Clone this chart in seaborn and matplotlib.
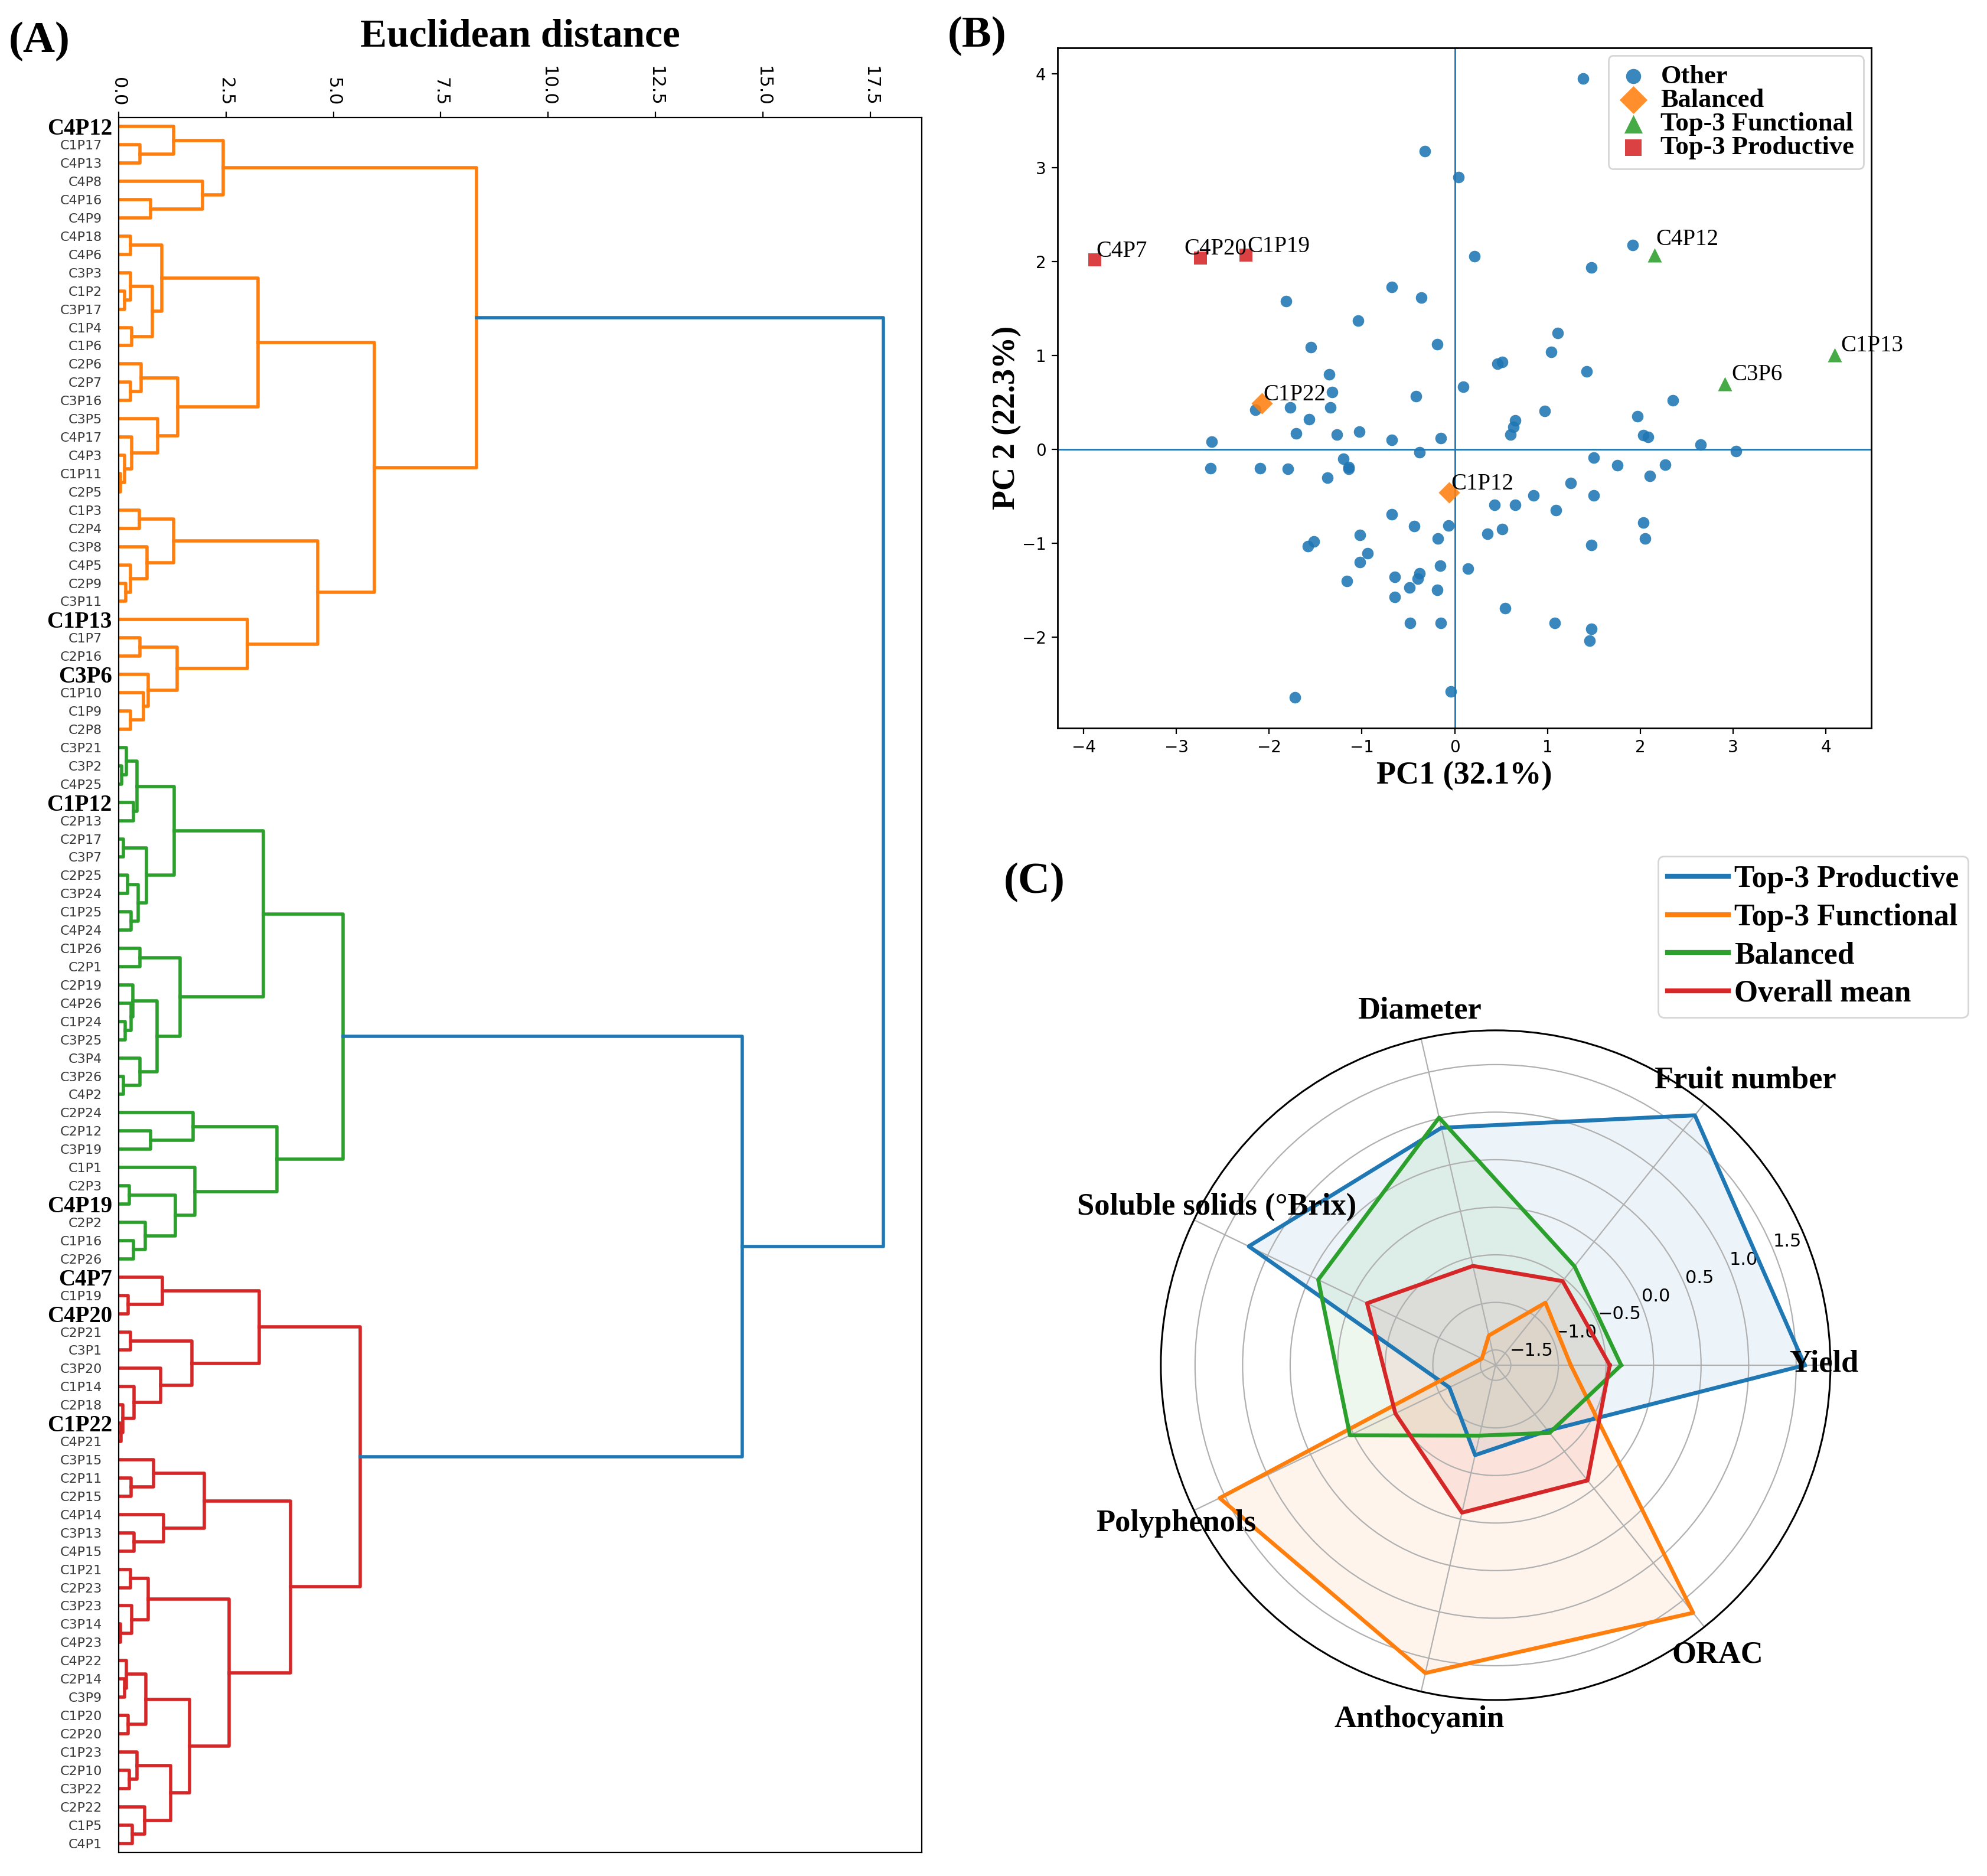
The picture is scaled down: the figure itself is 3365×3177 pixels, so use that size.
import matplotlib
matplotlib.use("Agg")
import matplotlib.pyplot as plt
from matplotlib.font_manager import FontProperties
import seaborn as sns
import numpy as np
import pandas as pd

plt.rcParams['font.family'] = ['DejaVu Sans']
SERIF = ['Liberation Serif', 'DejaVu Serif']
NARROW = ['Liberation Sans Narrow', 'DejaVu Sans']

BLUE, ORANGE, GREEN, RED = sns.color_palette("tab10")[:4]

# ---------------- (A) dendrogram, each merge = (upper, lower, distance) ----------------
orange_tree = (
    (("C4P12", ("C1P17", "C4P13", 0.50), 1.28),
     ("C4P8", ("C4P16", "C4P9", 0.74), 1.95), 2.43),
    (((("C4P18", "C4P6", 0.28),
       (("C3P3", ("C1P2", "C3P17", 0.14), 0.28), ("C1P4", "C1P6", 0.31), 0.79), 1.00),
      (("C2P6", ("C2P7", "C3P16", 0.28), 0.52),
       ("C3P5", ("C4P17", ("C4P3", ("C1P11", "C2P5", 0.04), 0.14), 0.30), 0.91), 1.37), 3.24),
     ((("C1P3", "C2P4", 0.48), ("C3P8", ("C4P5", ("C2P9", "C3P11", 0.17), 0.28), 0.66), 1.28),
      ("C1P13", (("C1P7", "C2P16", 0.50),
                 ("C3P6", ("C1P10", ("C1P9", "C2P8", 0.28), 0.58), 0.69), 1.36), 3.00), 4.63), 5.96),
    8.33)

green_tree = (
    (((("C3P21", ("C3P2", "C4P25", 0.07), 0.18), ("C1P12", "C2P13", 0.35), 0.43),
      (("C2P17", "C3P7", 0.11), (("C2P25", "C3P24", 0.21), ("C1P25", "C4P24", 0.29), 0.45), 0.65), 1.29),
     (("C1P26", "C2P1", 0.49),
      (("C2P19", ("C4P26", ("C1P24", "C3P25", 0.15), 0.29), 0.33),
       ("C3P4", ("C3P26", "C4P2", 0.11), 0.49), 0.90), 1.43), 3.37),
    (("C2P24", ("C2P12", "C3P19", 0.74), 1.73),
     ("C1P1", (("C2P3", "C4P19", 0.25), ("C2P2", ("C1P16", "C2P26", 0.35), 0.62), 1.32), 1.78), 3.69),
    5.22)

red_tree = (
    (("C4P7", ("C1P19", "C4P20", 0.22), 1.02),
     (("C2P21", "C3P1", 0.28),
      ("C3P20", ("C1P14", ("C2P18", ("C1P22", "C4P21", 0.05), 0.10), 0.36), 0.98), 1.71), 3.28),
    ((("C3P15", ("C2P11", "C2P15", 0.29), 0.81), ("C4P14", ("C3P13", "C4P15", 0.36), 1.05), 1.99),
     ((("C1P21", "C2P23", 0.28), ("C3P23", ("C3P14", "C4P23", 0.04), 0.31), 0.69),
      ((("C4P22", ("C2P14", "C3P9", 0.14), 0.18), ("C1P20", "C2P20", 0.22), 0.63),
       (("C1P23", ("C2P10", "C3P22", 0.25), 0.43), ("C2P22", ("C1P5", "C4P1", 0.32), 0.60), 1.21),
       1.65), 2.57), 4.00),
    5.62)

green_red_distance = 14.52
root_distance = 17.81
highlighted = ["C4P12", "C1P13", "C3P6", "C1P12", "C4P19", "C4P7", "C4P20", "C1P22"]

# ---------------- (B) PCA scores ----------------
other_pc1 = [1.38, -0.32, 0.04, 0.21, 1.92, 1.47, -0.68, -0.36, -1.82, -1.04, 1.11, -1.55, -0.19,
             1.04, 0.51, 0.46, 1.42, -1.35, 0.09, -1.32, -0.42, 2.35, -1.77, -1.34, -2.15, 0.97,
             -1.57, 0.65, 1.97, 0.63, 0.60, -1.71, -1.27, -1.03, -0.68, -0.15, -2.62, 2.03, 2.08,
             2.65, 3.03, -0.38, 1.50, -1.20, -1.14, -1.14, -2.63, -2.10, -1.80, 1.75, 2.27, -1.37,
             2.10, 1.25, 0.85, 1.50, 0.43, 0.65, 1.09, -0.68, 2.03, -0.07, -0.44, 0.51, 0.35, -1.02,
             2.05, -0.18, -1.52, -1.58, 1.47, -0.94, -1.02, -0.16, 0.14, -0.38, -0.65, -0.40, -1.16,
             -0.49, -0.19, -0.65, 0.54, -0.48, -0.15, 1.08, 1.47, 1.45, -0.04, -1.72]
other_pc2 = [3.95, 3.18, 2.90, 2.06, 2.18, 1.94, 1.73, 1.62, 1.58, 1.37, 1.24, 1.09, 1.12,
             1.04, 0.93, 0.91, 0.83, 0.80, 0.67, 0.61, 0.57, 0.52, 0.45, 0.45, 0.42, 0.41,
             0.32, 0.31, 0.35, 0.24, 0.16, 0.17, 0.16, 0.19, 0.10, 0.12, 0.08, 0.15, 0.13,
             0.05, -0.02, -0.03, -0.09, -0.10, -0.19, -0.21, -0.20, -0.20, -0.21, -0.17, -0.16, -0.30,
             -0.28, -0.36, -0.49, -0.49, -0.59, -0.59, -0.65, -0.69, -0.78, -0.81, -0.82, -0.85, -0.90, -0.91,
             -0.95, -0.95, -0.98, -1.03, -1.02, -1.11, -1.20, -1.24, -1.27, -1.32, -1.36, -1.38, -1.40,
             -1.47, -1.50, -1.57, -1.69, -1.85, -1.85, -1.85, -1.91, -2.04, -2.58, -2.64]

balanced_names = ["C1P22", "C1P12"]
balanced_pc1 = [-2.08, -0.06]
balanced_pc2 = [0.49, -0.46]

functional_names = ["C4P12", "C3P6", "C1P13"]
functional_pc1 = [2.15, 2.91, 4.09]
functional_pc2 = [2.07, 0.70, 1.01]

productive_names = ["C4P7", "C4P20", "C1P19"]
productive_pc1 = [-3.88, -2.74, -2.25]
productive_pc2 = [2.02, 2.04, 2.07]

# ---------------- (C) radar profiles (z-scores) ----------------
radar_traits = ["Yield", "Fruit number", "Diameter", "Soluble solids (°Brix)",
                "Polyphenols", "Anthocyanin", "ORAC"]
productive_profile = [1.59, 1.70, 0.90, 1.22, -1.12, -0.69, -0.78]
functional_profile = [-0.87, -0.82, -1.34, -1.50, 1.56, 1.66, 1.67]
balanced_profile = [-0.34, -0.33, 1.01, 0.41, 0.04, -0.90, -0.75]
mean_profile = [-0.46, -0.53, -0.59, -0.16, -0.49, -0.07, -0.11]

# text nudges in points
label_nudge = {"C4P20": (-10, 2), "C4P12": (1, 6), "C1P13": (4, 2), "C3P6": (4, 2)}
trait_label_offset = {"Yield": (-4, 1), "Fruit number": (25, 14), "Diameter": (-1, 17),
                      "Soluble solids (°Brix)": (14, 8), "Polyphenols": (-11, -8),
                      "Anthocyanin": (-1, -17), "ORAC": (8, -17)}

fig = plt.figure(figsize=(16.825, 15.885), dpi=200)


def leaf_names(node):
    if isinstance(node, str):
        return [node]
    return leaf_names(node[0]) + leaf_names(node[1])


def draw_tree(ax, node, rows, color):
    if isinstance(node, str):
        return rows[node], 0.0
    y1, d1 = draw_tree(ax, node[0], rows, color)
    y2, d2 = draw_tree(ax, node[1], rows, color)
    d = node[2]
    ax.plot([d1, d, d, d2], [y1, y1, y2, y2], color=color, lw=2.0)
    return (y1 + y2) / 2, d


# ---- panel A ----
axa = fig.add_axes([0.0597, 0.0126, 0.4042, 0.9248])
order = leaf_names(orange_tree) + leaf_names(green_tree) + leaf_names(red_tree)
rows = {name: i for i, name in enumerate(order)}

yo, do = draw_tree(axa, orange_tree, rows, ORANGE)
yg, dg = draw_tree(axa, green_tree, rows, GREEN)
yr, dr = draw_tree(axa, red_tree, rows, RED)
axa.plot([dg, green_red_distance, green_red_distance, dr], [yg, yg, yr, yr], color=BLUE, lw=2.0)
ygr = (yg + yr) / 2
axa.plot([do, root_distance, root_distance, green_red_distance], [yo, yo, ygr, ygr], color=BLUE, lw=2.0)

axa.set_xlim(0, root_distance * 1.05)
axa.set_ylim(len(order) - 0.5, -0.5)
axa.xaxis.tick_top()
axa.xaxis.set_label_position('top')
axa.tick_params(axis='x', labelrotation=-90, labelsize=11)
axa.set_xlabel("Euclidean distance", family=SERIF, weight='bold', fontsize=24.3, labelpad=12)
axa.set_yticks(range(len(order)))
axa.set_yticklabels(order)
axa.tick_params(axis='y', length=0)
for lab, tick in zip(axa.get_yticklabels(), axa.yaxis.get_major_ticks()):
    if lab.get_text() in highlighted:
        lab.set_fontproperties(FontProperties(family=SERIF, weight='bold', size=14))
        lab.set_color('black')
        tick.set_pad(4)
    else:
        lab.set_fontproperties(FontProperties(family=NARROW, size=8))
        lab.set_color('#3a3a3a')
        tick.set_pad(10)

# ---- panel B ----
axb = fig.add_axes([0.5323, 0.6119, 0.4095, 0.3626])
axb.axhline(0, color=BLUE, lw=1.0, zorder=0)
axb.axvline(0, color=BLUE, lw=1.0, zorder=0)
groups = [("Other", other_pc1, other_pc2, BLUE, "o", 50),
          ("Balanced", balanced_pc1, balanced_pc2, ORANGE, "D", 85),
          ("Top-3 Functional", functional_pc1, functional_pc2, GREEN, "^", 75),
          ("Top-3 Productive", productive_pc1, productive_pc2, RED, "s", 62)]
for name, xs, ys, col, mk, sz in groups:
    df = pd.DataFrame({"PC1": xs, "PC2": ys})
    sns.scatterplot(data=df, x="PC1", y="PC2", color=col, marker=mk, s=sz,
                    linewidth=0, alpha=0.88, label=name, ax=axb)

for names, xs, ys in [(balanced_names, balanced_pc1, balanced_pc2),
                      (functional_names, functional_pc1, functional_pc2),
                      (productive_names, productive_pc1, productive_pc2)]:
    for n, x, y in zip(names, xs, ys):
        axb.annotate(n, (x, y), xytext=label_nudge.get(n, (1, 2)), textcoords='offset points',
                     ha='left', va='baseline', family=SERIF, fontsize=14)

axb.set_xlabel("PC1 (32.1%)", family=SERIF, weight='bold', fontsize=19.5, labelpad=3)
axb.set_ylabel("PC 2 (22.3%)", family=SERIF, weight='bold', fontsize=19.5)
axb.yaxis.set_label_coords(-0.044, 0.456)
axb.tick_params(labelsize=10)
for s in axb.spines.values():
    s.set_linewidth(1.0)
axb.legend(loc='upper right', prop=FontProperties(family=SERIF, weight='bold', size=16),
           labelspacing=0.0, handlelength=1.2, handletextpad=0.45, borderpad=0.35,
           borderaxespad=0.3, markerscale=1.3)

# ---- panel C ----
axc = fig.add_axes([0.5842, 0.0938, 0.337, 0.357], projection='polar')
angles = np.linspace(0, 2 * np.pi, len(radar_traits), endpoint=False)
closed = np.append(angles, angles[0])
profiles = [("Top-3 Productive", productive_profile, BLUE),
            ("Top-3 Functional", functional_profile, ORANGE),
            ("Balanced", balanced_profile, GREEN),
            ("Overall mean", mean_profile, RED)]
for name, vals, col in profiles:
    v = np.append(vals, vals[0])
    axc.plot(closed, v, color=col, lw=2.4, label=name)
    axc.fill(closed, v, color=col, alpha=0.08)
axc.set_ylim(-1.66, 1.86)
axc.set_xticks(angles)
axc.set_xticklabels([])
rmax = axc.get_ylim()[1]
for ang, trait in zip(angles, radar_traits):
    axc.annotate(trait, (ang, rmax), xytext=trait_label_offset[trait], textcoords='offset points',
                 ha='center', va='center', annotation_clip=False,
                 fontproperties=FontProperties(family=SERIF, weight='bold', size=18.9))
axc.set_yticks([-1.5, -1.0, -0.5, 0.0, 0.5, 1.0, 1.5])
axc.tick_params(axis='y', labelsize=11)
axc.spines['polar'].set_linewidth(1.1)
axc.legend(loc='upper right', bbox_to_anchor=(0.9905, 0.5436), bbox_transform=fig.transFigure,
           prop=FontProperties(family=SERIF, weight='bold', size=18.6), borderaxespad=0,
           labelspacing=0.32, handlelength=2.0, handletextpad=0.2, borderpad=0.3)
for line in axc.get_legend().get_lines():
    line.set_linewidth(3.0)

# panel letters
for letter, x, y in [("(A)", 0.0045, 0.9887), ("(B)", 0.477, 0.9915), ("(C)", 0.505, 0.5404)]:
    fig.text(x, y, letter, family=SERIF, weight='bold', fontsize=27, va='top', ha='left')

fig.savefig("out.png", dpi=200)
